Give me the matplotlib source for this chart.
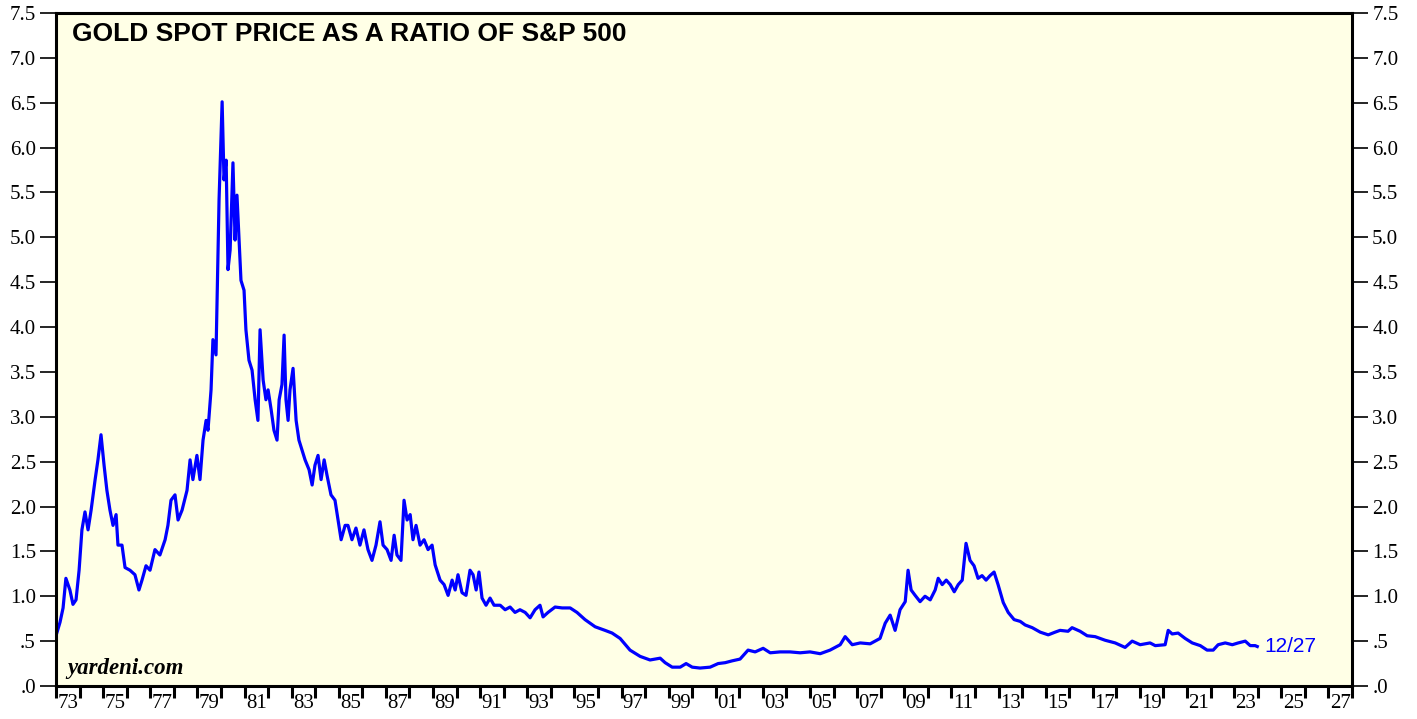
import matplotlib
matplotlib.use("Agg")
import matplotlib.pyplot as plt
import numpy as np

years = [1973.00, 1973.17, 1973.30, 1973.42, 1973.59, 1973.72, 1973.85, 1973.98, 1974.10, 1974.23,
         1974.36, 1974.49, 1974.66, 1974.78, 1974.91, 1975.04, 1975.16, 1975.29, 1975.42, 1975.55,
         1975.63, 1975.80, 1975.93, 1976.14, 1976.35, 1976.52, 1976.65, 1976.82, 1976.99, 1977.20,
         1977.41, 1977.63, 1977.75, 1977.88, 1978.05, 1978.18, 1978.35, 1978.56, 1978.69, 1978.81,
         1978.98, 1979.11, 1979.24, 1979.37, 1979.45, 1979.58, 1979.66, 1979.79, 1979.92, 1980.05,
         1980.13, 1980.22, 1980.30, 1980.39, 1980.51, 1980.60, 1980.68, 1980.77, 1980.85, 1980.98,
         1981.06, 1981.19, 1981.32, 1981.45, 1981.57, 1981.66, 1981.79, 1981.91, 1982.00, 1982.13,
         1982.25, 1982.38, 1982.47, 1982.59, 1982.68, 1982.76, 1982.85, 1982.93, 1983.06, 1983.19,
         1983.31, 1983.44, 1983.57, 1983.74, 1983.87, 1983.99, 1984.12, 1984.25, 1984.38, 1984.50,
         1984.67, 1984.84, 1984.97, 1985.10, 1985.27, 1985.39, 1985.56, 1985.73, 1985.90, 1986.07,
         1986.24, 1986.41, 1986.58, 1986.75, 1986.88, 1987.05, 1987.22, 1987.35, 1987.47, 1987.64,
         1987.77, 1987.90, 1988.03, 1988.15, 1988.28, 1988.45, 1988.62, 1988.79, 1988.96, 1989.09,
         1989.30, 1989.47, 1989.64, 1989.81, 1989.94, 1990.06, 1990.23, 1990.40, 1990.57, 1990.70,
         1990.83, 1990.95, 1991.08, 1991.25, 1991.42, 1991.59, 1991.85, 1992.06, 1992.27, 1992.48,
         1992.69, 1992.91, 1993.12, 1993.33, 1993.54, 1993.67, 1993.88, 1994.18, 1994.48, 1994.82,
         1995.11, 1995.45, 1995.88, 1996.30, 1996.60, 1996.94, 1997.36, 1997.79, 1998.21, 1998.64,
         1998.85, 1999.15, 1999.49, 1999.74, 2000.00, 2000.33, 2000.76, 2001.10, 2001.40, 2001.69,
         2002.03, 2002.37, 2002.67, 2003.01, 2003.31, 2003.73, 2004.15, 2004.58, 2005.00, 2005.43,
         2005.85, 2006.28, 2006.49, 2006.79, 2007.13, 2007.55, 2007.97, 2008.19, 2008.40, 2008.61,
         2008.82, 2009.04, 2009.16, 2009.29, 2009.46, 2009.67, 2009.88, 2010.10, 2010.31, 2010.44,
         2010.61, 2010.78, 2010.95, 2011.12, 2011.29, 2011.46, 2011.62, 2011.79, 2011.96, 2012.13,
         2012.30, 2012.47, 2012.64, 2012.81, 2012.98, 2013.20, 2013.41, 2013.66, 2013.92, 2014.13,
         2014.43, 2014.77, 2015.11, 2015.40, 2015.61, 2015.95, 2016.12, 2016.46, 2016.76, 2017.10,
         2017.52, 2017.95, 2018.37, 2018.67, 2019.01, 2019.43, 2019.65, 2020.07, 2020.20, 2020.37,
         2020.62, 2020.92, 2021.22, 2021.56, 2021.85, 2022.11, 2022.32, 2022.62, 2022.92, 2023.17,
         2023.47, 2023.68, 2023.89, 2023.98]

ratio = [0.56, 0.71, 0.87, 1.20, 1.07, 0.91, 0.96, 1.29, 1.74, 1.94,
         1.74, 1.96, 2.30, 2.52, 2.80, 2.46, 2.18, 1.96, 1.79, 1.91,
         1.57, 1.57, 1.32, 1.29, 1.24, 1.07, 1.18, 1.34, 1.29, 1.52,
         1.46, 1.63, 1.79, 2.07, 2.13, 1.85, 1.96, 2.18, 2.52, 2.30,
         2.57, 2.30, 2.74, 2.96, 2.85, 3.30, 3.86, 3.69, 5.42, 6.51,
         5.64, 5.86, 4.64, 4.86, 5.83, 4.97, 5.47, 4.97, 4.52, 4.41,
         3.97, 3.63, 3.52, 3.19, 2.96, 3.97, 3.41, 3.19, 3.30, 3.08,
         2.85, 2.74, 3.19, 3.36, 3.91, 3.19, 2.96, 3.30, 3.54, 2.96,
         2.74, 2.63, 2.52, 2.41, 2.24, 2.46, 2.57, 2.30, 2.52, 2.35,
         2.13, 2.07, 1.85, 1.63, 1.79, 1.79, 1.63, 1.76, 1.57, 1.74,
         1.52, 1.40, 1.57, 1.83, 1.57, 1.52, 1.40, 1.68, 1.46, 1.40,
         2.07, 1.85, 1.91, 1.63, 1.79, 1.57, 1.63, 1.52, 1.57, 1.35,
         1.18, 1.13, 1.01, 1.18, 1.07, 1.24, 1.04, 1.01, 1.29, 1.24,
         1.07, 1.27, 0.98, 0.90, 0.98, 0.90, 0.90, 0.85, 0.88, 0.82,
         0.85, 0.82, 0.76, 0.85, 0.90, 0.77, 0.82, 0.88, 0.87, 0.87,
         0.82, 0.74, 0.66, 0.62, 0.59, 0.53, 0.40, 0.33, 0.29, 0.31,
         0.26, 0.21, 0.21, 0.25, 0.21, 0.20, 0.21, 0.25, 0.26, 0.28,
         0.30, 0.40, 0.38, 0.42, 0.37, 0.38, 0.38, 0.37, 0.38, 0.36,
         0.40, 0.46, 0.55, 0.46, 0.48, 0.47, 0.53, 0.70, 0.79, 0.62,
         0.85, 0.94, 1.29, 1.07, 1.01, 0.94, 1.00, 0.96, 1.07, 1.20,
         1.13, 1.18, 1.13, 1.05, 1.13, 1.18, 1.59, 1.40, 1.34, 1.20,
         1.23, 1.18, 1.23, 1.27, 1.13, 0.93, 0.82, 0.74, 0.72, 0.68,
         0.65, 0.60, 0.57, 0.60, 0.62, 0.61, 0.65, 0.61, 0.56, 0.55,
         0.51, 0.48, 0.43, 0.50, 0.46, 0.48, 0.45, 0.46, 0.62, 0.58,
         0.59, 0.53, 0.48, 0.45, 0.40, 0.40, 0.46, 0.48, 0.46, 0.48,
         0.50, 0.45, 0.45, 0.44]

ytick_vals = [0.0, 0.5, 1.0, 1.5, 2.0, 2.5, 3.0, 3.5, 4.0, 4.5, 5.0, 5.5, 6.0, 6.5, 7.0, 7.5]
ytick_labels = [".0", ".5", "1.0", "1.5", "2.0", "2.5", "3.0", "3.5", "4.0", "4.5",
                "5.0", "5.5", "6.0", "6.5", "7.0", "7.5"]
label_years = list(range(1973, 2028, 2))
title = "GOLD SPOT PRICE AS A RATIO OF S&P 500"
end_label = "12/27"

fig = plt.figure(figsize=(14.17, 7.19), dpi=100)
ax = fig.add_axes([56/1417, 1-686/719, (1352-56)/1417, (686-13)/719])
ax.set_facecolor("#FFFFE6")
ax.plot(years, ratio, color="#0000FF", lw=2.3, solid_joinstyle="round")
ax.set_xlim(1973, 2028)
ax.set_ylim(0, 7.5)

serif = ["Liberation Serif", "DejaVu Serif"]
ax.set_yticks(ytick_vals)
ax.set_yticklabels(ytick_labels, fontfamily=serif, fontsize=15)
ax.tick_params(axis="y", direction="out", length=11.5, width=1.2, pad=3,
               left=True, right=True, labelleft=True, labelright=True)

ax.set_xticks(np.arange(1973, 2029, 1))
ax.set_xticklabels([])
ax.tick_params(axis="x", which="major", direction="out", length=8.5, width=2.2)
ax.set_xticks([y + 0.5 for y in label_years], minor=True)
ax.set_xticklabels([f"{y % 100:02d}" for y in label_years], minor=True,
                   fontfamily=serif, fontsize=15)
ax.tick_params(axis="x", which="minor", length=0, pad=6)

for s in ax.spines.values():
    s.set_linewidth(2.2)

ax.text(0.012, 0.987, title, transform=ax.transAxes, ha="left", va="top",
        fontfamily=["Liberation Sans", "DejaVu Sans"], fontweight="bold", fontsize=19)
ax.text(0.009, 0.010, "yardeni.com", transform=ax.transAxes, ha="left", va="bottom",
        fontfamily=serif, fontweight="bold", fontstyle="italic", fontsize=16.5)
ax.text(years[-1] + 0.3, ratio[-1], end_label, ha="left", va="center",
        color="#0000FF", fontfamily=["Liberation Sans", "DejaVu Sans"], fontsize=15)

fig.savefig("out.png", dpi=100, facecolor="white")
